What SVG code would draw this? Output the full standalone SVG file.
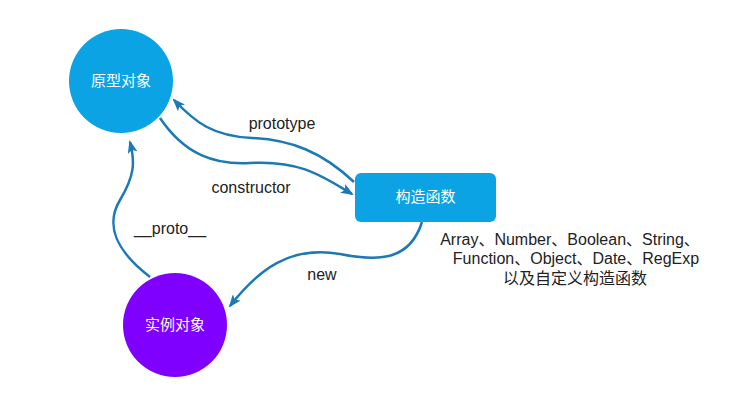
<svg xmlns="http://www.w3.org/2000/svg" width="750" height="403" viewBox="0 0 750 403">
<style>
.edge{fill:none;stroke:#1b79b6;stroke-width:2.5}
.lbl{font-family:"Liberation Sans","Noto Sans CJK SC",sans-serif;font-size:16px;fill:#222}
.node-t{font-family:"Noto Sans CJK SC","Liberation Sans",sans-serif;font-size:15px;fill:#fff;text-anchor:middle}
</style>
<defs>
<marker id="ah" viewBox="0 0 13 10" refX="11" refY="5" markerWidth="13" markerHeight="10" markerUnits="userSpaceOnUse" orient="auto">
<path d="M0,0 L13,5 L0,10 L3,5 z" fill="#1b79b6"/>
</marker>
</defs>
<rect width="750" height="403" fill="#fff"/>
<g id="connectors">
<path class="edge" marker-end="url(#ah)" d="M354,182 C322,152 292,140 252,138 C212,136 195,122 174,100"/>
<path class="edge" marker-end="url(#ah)" d="M160,118 C185,155 215,165 250,163 C300,160 322,176 352,194"/>
<path class="edge" marker-end="url(#ah)" d="M150,277 C115,250 105,225 120,200 C135,175 135,162 130,142"/>
<path class="edge" marker-end="url(#ah)" d="M422,222 C410,260 380,262 340,254 C290,245 258,270 230,306"/>
</g>
<g id="labels">
<text class="lbl" x="282" y="129" text-anchor="middle">prototype</text>
<text class="lbl" x="251" y="193" text-anchor="middle">constructor</text>
<text class="lbl" x="170" y="234" text-anchor="middle">__proto__</text>
<text class="lbl" x="322" y="280" text-anchor="middle">new</text>
<text class="lbl" x="570" y="245" text-anchor="middle">Array、Number、Boolean、String、</text>
<text class="lbl" x="576" y="264" text-anchor="middle">Function、Object、Date、RegExp</text>
<text class="lbl" x="575" y="284" text-anchor="middle">以及自定义构造函数</text>
</g>
<g id="prototype-obj">
<circle cx="121" cy="81" r="52" fill="#0ba3e3"/>
<text class="node-t" x="121" y="86">原型对象</text>
</g>
<g id="constructor-fn">
<rect x="355" y="173" width="141" height="49" rx="6" fill="#0ba3e3"/>
<text class="node-t" x="425.5" y="202">构造函数</text>
</g>
<g id="instance-obj">
<circle cx="175" cy="325" r="52" fill="#7f00ff"/>
<text class="node-t" x="175" y="330">实例对象</text>
</g>
</svg>
